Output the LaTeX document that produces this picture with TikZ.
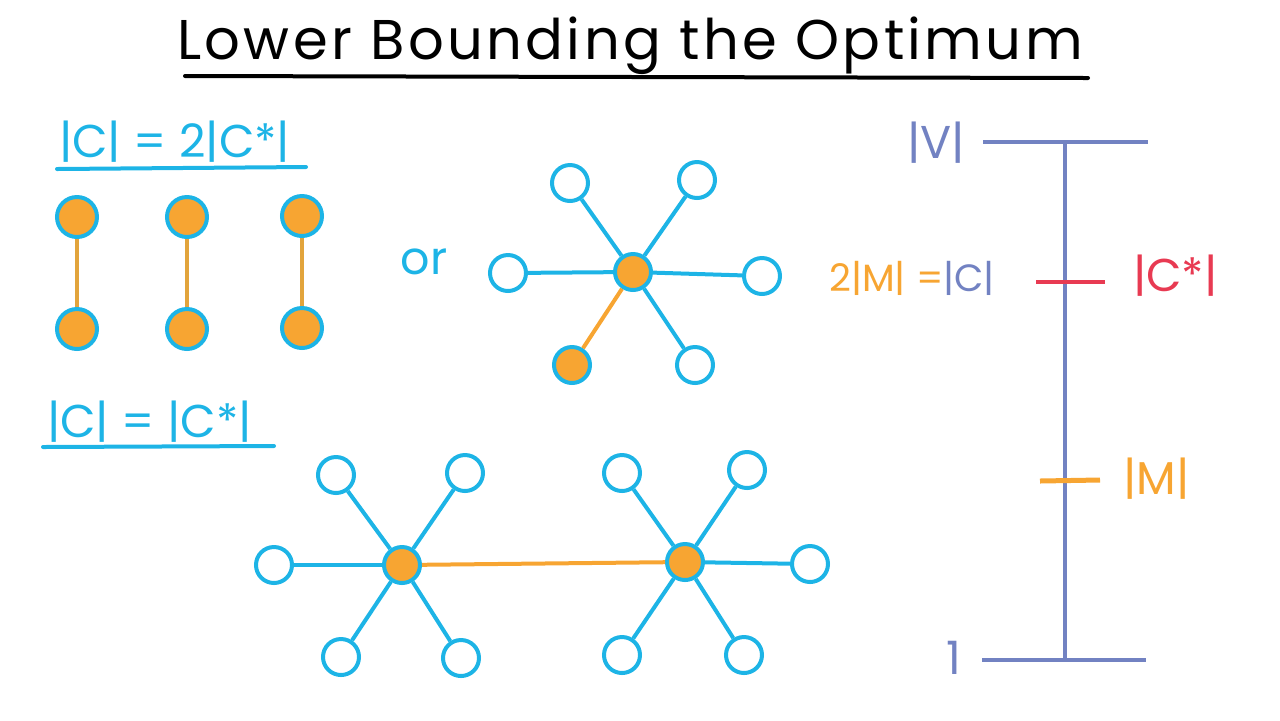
\documentclass[tikz,border=0pt]{standalone}
\usepackage{fontspec}
\setmainfont{Poppins}
\usetikzlibrary{positioning}
\definecolor{vblue}{HTML}{1DB4E6}
\definecolor{morange}{HTML}{F7A532}
\definecolor{pairorange}{HTML}{E2A43C}
\definecolor{lavender}{HTML}{7282C2}
\definecolor{optred}{HTML}{E83A52}

\begin{document}
\begin{tikzpicture}[
    x=0.5pt, y=-0.5pt,
    vtx/.style={circle, draw=vblue, line width=2pt, minimum size=18pt, inner sep=0pt, fill=white},
    mvtx/.style={vtx, fill=morange},
    bigm/.style={mvtx, minimum size=20pt},
    edge/.style={vblue, line width=2pt},
    medge/.style={morange, line width=2pt},
    lbl/.style={font=\fontsize{23}{28}\selectfont, text=vblue},
    rule/.style={line width=2pt, line cap=round},
    bar/.style={lavender, line width=2pt},
  ]
    \useasboundingbox (0,0) rectangle (1280,720);

    % title
    \node[font=\fontsize{28}{34}\selectfont\addfontfeatures{LetterSpace=6}] (title) at (630,46) {Lower Bounding the Optimum};
    \draw[rule] (185,76) -- (1088,78);

    % |C| = 2|C*| : three disjoint edges
    \node[lbl, anchor=west] (twice) at (52,142) {|C| = 2|C*|};
    \draw[rule, vblue] (57,169) -- (306,167);
    \node[bigm] (p1a) at (77,217) {};
    \node[bigm] (p2a) at (187,217) {};
    \node[bigm] (p3a) at (302,216) {};
    \node[bigm, below=56pt of p1a.center, anchor=center] (p1b) {};
    \node[bigm, below=56pt of p2a.center, anchor=center] (p2b) {};
    \node[bigm, below=56pt of p3a.center, anchor=center] (p3b) {};
    \foreach \i in {1,2,3} \draw[medge, pairorange] (p\i a) -- (p\i b);

    \node[lbl, anchor=center] (or) at (424,262) {or};

    % one star
    \node[mvtx] (s) at (633,272) {};
    \node[vtx] (s1) at (570,183) {};
    \node[vtx] (s2) at (697,180) {};
    \node[vtx] (s3) at (508,273) {};
    \node[vtx] (s4) at (762,276) {};
    \node[mvtx] (s5) at (572,365) {};
    \node[vtx] (s6) at (695,365) {};
    \foreach \l in {s1,s2,s3,s4,s6} \draw[edge] (s) -- (\l);
    \draw[medge] (s) -- (s5);

    % |C| = |C*| : two stars joined
    \node[lbl, anchor=west] (equal) at (40,422) {|C| = |C*|};
    \draw[rule, vblue] (43,447) -- (274,446);
    \node[mvtx] (a) at (402,565) {};
    \node[vtx] (a1) at (336,475) {};
    \node[vtx] (a2) at (465,473) {};
    \node[vtx] (a3) at (274,565) {};
    \node[vtx] (a4) at (341,657) {};
    \node[vtx] (a5) at (461,658) {};
    \node[mvtx] (b) at (685,562) {};
    \node[vtx] (b1) at (622,473) {};
    \node[vtx] (b2) at (747,470) {};
    \node[vtx] (b3) at (810,564) {};
    \node[vtx] (b4) at (622,655) {};
    \node[vtx] (b5) at (744,655) {};
    \foreach \l in {a1,a2,a3,a4,a5} \draw[edge] (a) -- (\l);
    \foreach \l in {b1,b2,b3,b4,b5} \draw[edge] (b) -- (\l);
    \draw[medge] (a) -- (b);

    % scale
    \coordinate (top) at (1065,142);
    \coordinate (bot) at (1065,660);
    \draw[bar] (983,142) -- (1148,142);
    \draw[bar] (982,660) -- (1146,660);
    \draw[bar] (top) -- (bot);
    \node[lbl, text=lavender, anchor=east] (vv) at (972,143) {|V|};
    \node[lbl, text=lavender, anchor=east] (one) at (968,658) {1};
    \draw[optred, line width=2pt] (1036,282) -- (1105,282);
    \node[lbl, text=optred, anchor=west] (copt) at (1126,276) {|C*|};
    \node[lbl, text=lavender, anchor=east, font=\fontsize{19}{24}\selectfont] (cm) at (1002,278) {\textcolor{morange}{2|M| =}|C|};
    \draw[morange, line width=2.5pt] (1040,481) -- (1100,480);
    \node[lbl, text=morange, anchor=west] (mm) at (1116,479) {|M|};
  \end{tikzpicture}
\end{document}
